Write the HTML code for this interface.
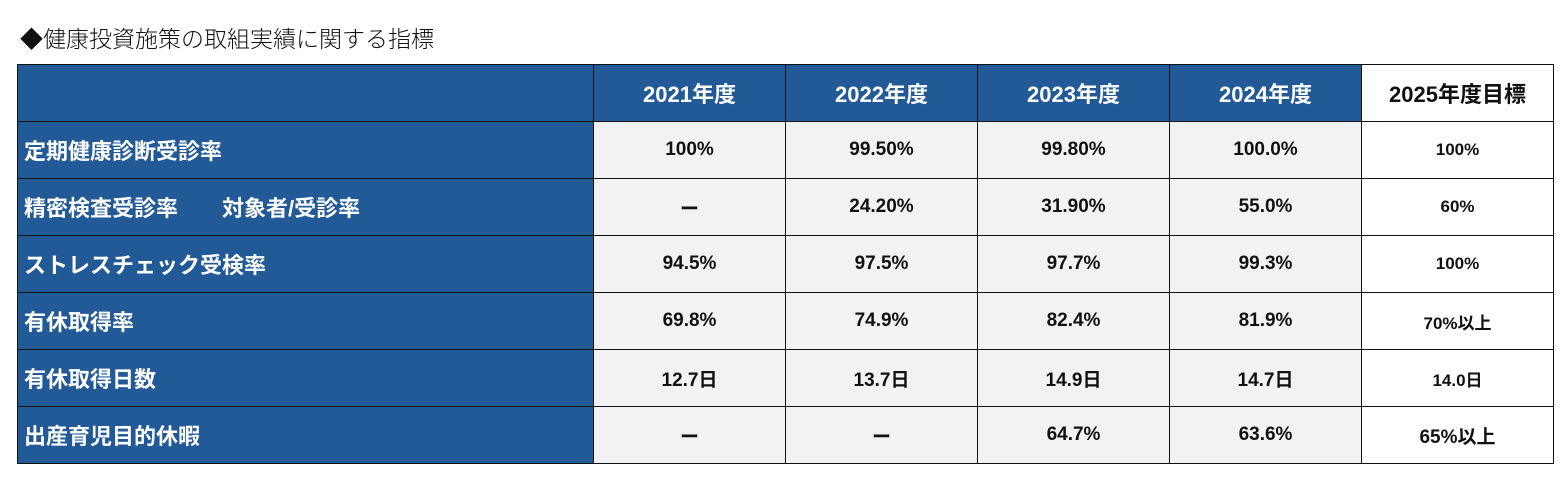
<!DOCTYPE html>
<html><head><meta charset="utf-8"><style>
body{margin:0;width:1567px;height:495px;background:#fff;font-family:"Liberation Sans","Noto Sans CJK JP",sans-serif;overflow:hidden}
#title{position:absolute;left:20px;top:20px;font-size:23px;color:#111;font-family:"Noto Sans CJK JP",sans-serif;font-weight:300}
table{position:absolute;left:17px;top:64px;border-collapse:collapse;table-layout:fixed}
td{border:1.5px solid #111;height:56px;padding:0;text-align:center;font-weight:bold;font-size:19px;color:#111;background:#f2f2f2}
td.h{background:#225a98;color:#fff;font-size:22px}
td.r{background:#225a98;color:#fff;font-size:22px;text-align:left;padding-left:6px}
td.t{background:#fff;font-size:17px}
td.th{background:#fff;font-size:22px}
</style></head><body>
<div id="title">◆健康投資施策の取組実績に関する指標</div>
<table>
<colgroup><col style="width:576px"><col style="width:192px"><col style="width:192px"><col style="width:192px"><col style="width:192px"><col style="width:192px"></colgroup>
<tr><td class="h"></td><td class="h">2021年度</td><td class="h">2022年度</td><td class="h">2023年度</td><td class="h">2024年度</td><td class="th">2025年度目標</td></tr>
<tr><td class="r">定期健康診断受診率</td><td>100%</td><td>99.50%</td><td>99.80%</td><td>100.0%</td><td class="t">100%</td></tr>
<tr><td class="r">精密検査受診率　　対象者/受診率</td><td>ー</td><td>24.20%</td><td>31.90%</td><td>55.0%</td><td class="t">60%</td></tr>
<tr><td class="r">ストレスチェック受検率</td><td>94.5%</td><td>97.5%</td><td>97.7%</td><td>99.3%</td><td class="t">100%</td></tr>
<tr><td class="r">有休取得率</td><td>69.8%</td><td>74.9%</td><td>82.4%</td><td>81.9%</td><td class="t">70%以上</td></tr>
<tr><td class="r">有休取得日数</td><td>12.7日</td><td>13.7日</td><td>14.9日</td><td>14.7日</td><td class="t">14.0日</td></tr>
<tr><td class="r">出産育児目的休暇</td><td>ー</td><td>ー</td><td>64.7%</td><td>63.6%</td><td class="t" style="font-size:19px">65%以上</td></tr>
</table>
</body></html>
